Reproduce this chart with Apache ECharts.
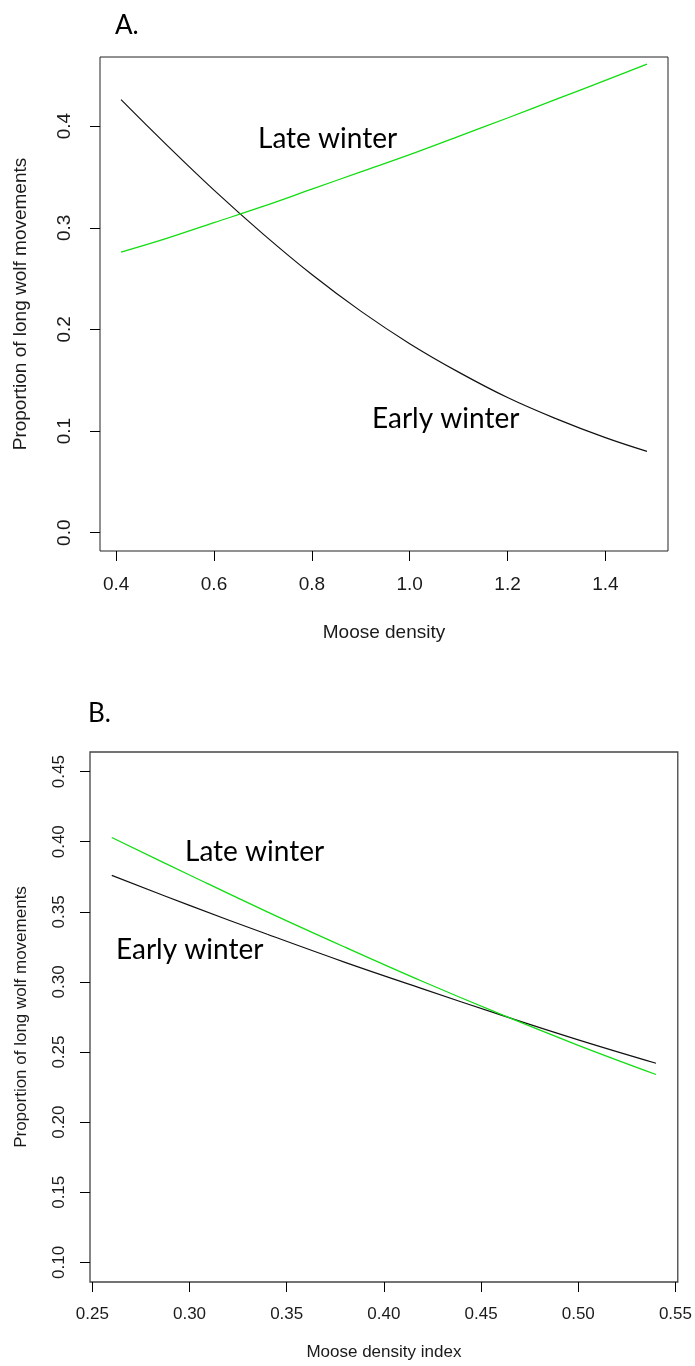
<!DOCTYPE html>
<html>
<head>
<meta charset="utf-8">
<script src="https://cdn.jsdelivr.net/npm/echarts@6/dist/echarts.min.js"></script>
<style>
html,body{margin:0;padding:0;background:#fff;}
#chart{width:695px;height:1366px;}
</style>
</head>
<body>
<div id="chart"></div>
<script>
// ---- Panel A data ----
const xA = [0.41, 0.5, 0.6, 0.7, 0.8, 0.9, 1.0, 1.1, 1.2, 1.3, 1.4, 1.485];
const earlyA = [0.426, 0.383, 0.337, 0.294, 0.254, 0.218, 0.186, 0.158, 0.133, 0.112, 0.0935, 0.080];
const lateA = [0.276, 0.289, 0.305, 0.321, 0.338, 0.355, 0.372, 0.390, 0.408, 0.4265, 0.445, 0.461];
const xTicksA = [0.4, 0.6, 0.8, 1.0, 1.2, 1.4];
const xTickLabelsA = ['0.4', '0.6', '0.8', '1.0', '1.2', '1.4'];
const yTicksA = [0.0, 0.1, 0.2, 0.3, 0.4];
const yTickLabelsA = ['0.0', '0.1', '0.2', '0.3', '0.4'];

// ---- Panel B data ----
const xB = [0.26, 0.30, 0.34, 0.38, 0.42, 0.46, 0.50, 0.54];
const earlyB = [0.376, 0.3546, 0.334, 0.314, 0.2951, 0.2765, 0.2587, 0.242];
const lateB = [0.403, 0.3763, 0.350, 0.3248, 0.3003, 0.277, 0.2548, 0.234];
const xTicksB = [0.25, 0.30, 0.35, 0.40, 0.45, 0.50, 0.55];
const xTickLabelsB = ['0.25', '0.30', '0.35', '0.40', '0.45', '0.50', '0.55'];
const yTicksB = [0.10, 0.15, 0.20, 0.25, 0.30, 0.35, 0.40, 0.45];
const yTickLabelsB = ['0.10', '0.15', '0.20', '0.25', '0.30', '0.35', '0.40', '0.45'];

const panelLabels = ['A.', 'B.'];
const seriesNames = ['Early winter', 'Late winter'];
const xTitles = ['Moose density', 'Moose density index'];
const yTitle = 'Proportion of long wolf movements';

function pick(ticks, labels) {
  return function (v) {
    for (let i = 0; i < ticks.length; i++) {
      if (Math.abs(ticks[i] - v) < 1e-6) return labels[i];
    }
    return '';
  };
}
function pairs(xs, ys) { return xs.map((x, i) => [x, ys[i]]); }

const FONT = 'Liberation Sans, Arial, sans-serif';
const ANN = 'Lato, Open Sans, sans-serif';

function xAxis(gi, min, max, ticks, labels, title, fs, lm, ng) {
  return {
    type: 'value', gridIndex: gi, min: min, max: max, position: 'bottom',
    splitLine: {show: false},
    axisLine: {show: false, onZero: false},
    axisTick: {show: true, inside: false, length: 10, customValues: ticks, lineStyle: {color: '#000', width: 1}},
    axisLabel: {show: true, customValues: ticks, formatter: pick(ticks, labels), margin: lm,
      fontFamily: FONT, fontSize: fs, color: '#1a1a1a'},
    name: title, nameLocation: 'middle', nameGap: ng,
    nameTextStyle: {fontFamily: FONT, fontSize: fs, color: '#1a1a1a'}
  };
}
function yAxis(gi, min, max, ticks, labels, fs, lm, ng) {
  return {
    type: 'value', gridIndex: gi, min: min, max: max, position: 'left',
    splitLine: {show: false},
    axisLine: {show: false, onZero: false},
    axisTick: {show: true, inside: false, length: 10, customValues: ticks, lineStyle: {color: '#000', width: 1}},
    axisLabel: {show: true, customValues: ticks, formatter: pick(ticks, labels), rotate: 90, margin: lm,
      fontFamily: FONT, fontSize: fs, color: '#1a1a1a'},
    name: yTitle, nameLocation: 'middle', nameGap: ng, nameRotate: 90,
    nameTextStyle: {fontFamily: FONT, fontSize: fs, color: '#1a1a1a'}
  };
}

const chart = echarts.init(document.getElementById('chart'), null, {renderer: 'canvas'});
const option = {
  animation: false,
  backgroundColor: '#fff',
  grid: [
    {left: 100, top: 57, width: 568, height: 494, show: true, borderColor: '#222', borderWidth: 1, backgroundColor: 'transparent'},
    {left: 90, top: 752, width: 592, height: 530, show: true, borderColor: '#444', borderWidth: 1.3, backgroundColor: 'transparent'}
  ],
  xAxis: [
    xAxis(0, 0.367, 1.528, xTicksA, xTickLabelsA, xTitles[0], 19, 24, 72),
    xAxis(1, 0.2488, 0.5512, xTicksB, xTickLabelsB, xTitles[1], 17, 24, 62)
  ],
  yAxis: [
    yAxis(0, -0.018, 0.468, yTicksA, yTickLabelsA, 19, 26, 70),
    yAxis(1, 0.086, 0.464, yTicksB, yTickLabelsB, 17, 22, 60)
  ],
  series: [
    {name: seriesNames[0], type: 'line', xAxisIndex: 0, yAxisIndex: 0, data: pairs(xA, earlyA), smooth: 0.4, symbol: 'none', lineStyle: {color: '#111', width: 1.2}},
    {name: seriesNames[1], type: 'line', xAxisIndex: 0, yAxisIndex: 0, data: pairs(xA, lateA), smooth: 0.4, symbol: 'none', lineStyle: {color: '#11dd11', width: 1.3}},
    {name: seriesNames[0], type: 'line', xAxisIndex: 1, yAxisIndex: 1, data: pairs(xB, earlyB), smooth: 0.4, symbol: 'none', lineStyle: {color: '#111', width: 1.2}},
    {name: seriesNames[1], type: 'line', xAxisIndex: 1, yAxisIndex: 1, data: pairs(xB, lateB), smooth: 0.4, symbol: 'none', lineStyle: {color: '#11dd11', width: 1.3}}
  ],
  graphic: [
    {type: 'text', x: 115, y: 26, style: {text: panelLabels[0], font: '26px ' + ANN, fill: '#000', verticalAlign: 'middle'}},
    {type: 'text', x: 88, y: 714, style: {text: panelLabels[1], font: '26px ' + ANN, fill: '#000', verticalAlign: 'middle'}},
    {type: 'text', x: 258, y: 139, style: {text: seriesNames[1], font: '28px ' + ANN, fill: '#000', verticalAlign: 'middle'}},
    {type: 'text', x: 372, y: 419, style: {text: seriesNames[0], font: '28px ' + ANN, fill: '#000', verticalAlign: 'middle'}},
    {type: 'text', x: 185, y: 852, style: {text: seriesNames[1], font: '28px ' + ANN, fill: '#000', verticalAlign: 'middle'}},
    {type: 'text', x: 116, y: 950, style: {text: seriesNames[0], font: '28px ' + ANN, fill: '#000', verticalAlign: 'middle'}}
  ]
};
chart.setOption(option);
</script>
</body>
</html>
